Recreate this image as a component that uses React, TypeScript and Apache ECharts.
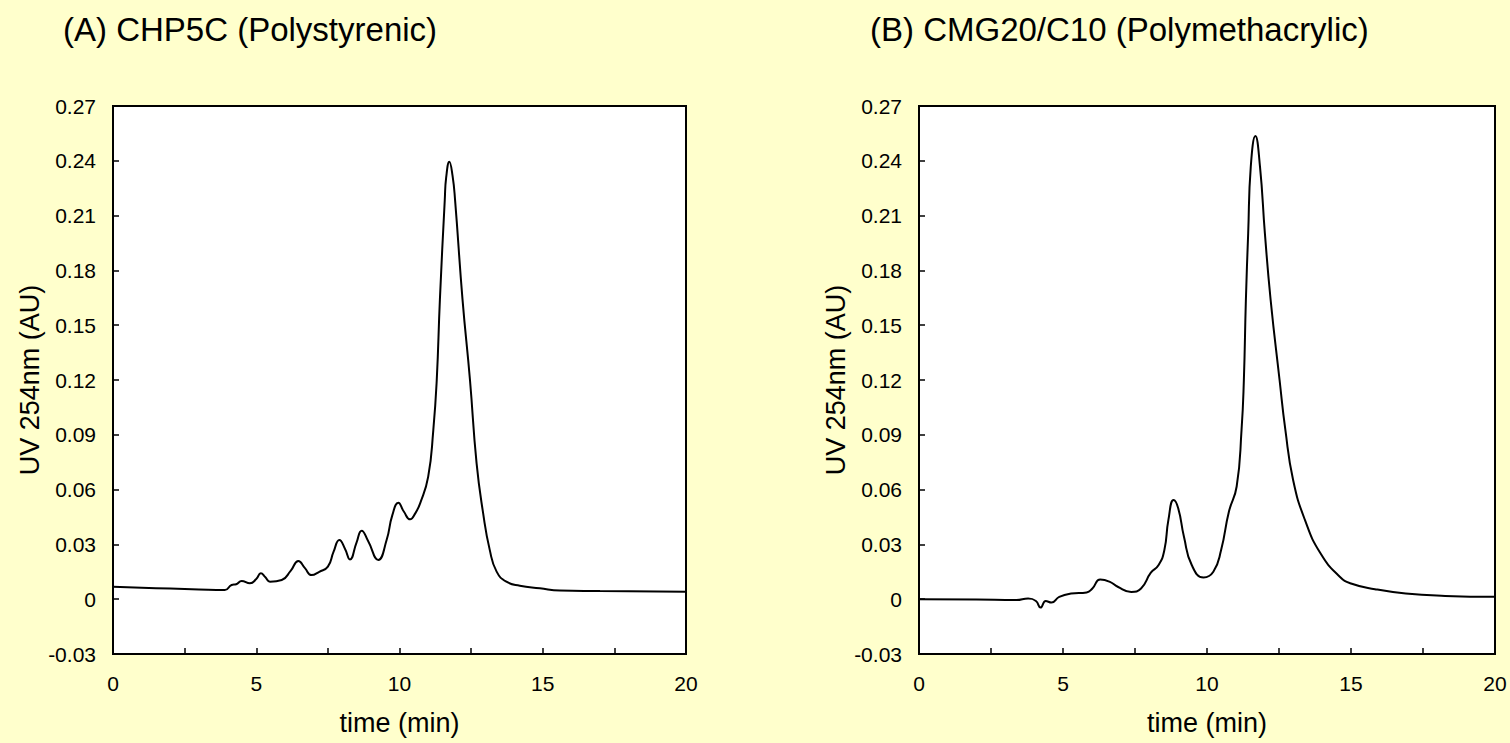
import React, { useEffect, useRef } from "react";
import * as echarts from "echarts";

const TITLE_A = "(A) CHP5C (Polystyrenic)";
const TITLE_B = "(B) CMG20/C10 (Polymethacrylic)";
const X_NAME = "time (min)";
const Y_NAME = "UV 254nm (AU)";

const timeA = [0, 1, 2, 3, 3.9, 4.14, 4.3, 4.49, 4.78, 5.0, 5.16, 5.32, 5.48, 5.89, 6.2, 6.47, 6.7, 6.93, 7.2, 7.5, 7.7, 7.9, 8.1, 8.27, 8.5, 8.68, 8.9, 9.26, 9.55, 9.75, 9.96, 10.15, 10.37, 10.55, 10.72, 11.0, 11.18, 11.3, 11.41, 11.58, 11.63, 11.74, 11.85, 11.94, 12.2, 12.46, 12.69, 12.92, 13.15, 13.39, 13.73, 14.2, 14.9, 15.6, 17, 20];
const uvA = [0.0068, 0.0063, 0.0058, 0.0053, 0.005, 0.0078, 0.0082, 0.0099, 0.0087, 0.011, 0.0142, 0.012, 0.0096, 0.0105, 0.0155, 0.0209, 0.017, 0.0132, 0.015, 0.0178, 0.026, 0.0324, 0.0275, 0.0218, 0.031, 0.0375, 0.032, 0.0215, 0.0324, 0.046, 0.0528, 0.048, 0.0437, 0.047, 0.0525, 0.067, 0.0926, 0.12, 0.164, 0.2185, 0.231, 0.2395, 0.232, 0.2185, 0.164, 0.12, 0.0745, 0.047, 0.027, 0.0151, 0.0096, 0.0074, 0.006, 0.0047, 0.0045, 0.0041];

const timeB = [0, 2, 3.38, 3.79, 4.06, 4.22, 4.4, 4.6, 4.87, 5.28, 5.82, 6.02, 6.29, 6.63, 6.9, 7.37, 7.71, 8.05, 8.32, 8.52, 8.66, 8.84, 9.0, 9.2, 9.47, 9.88, 10.22, 10.49, 10.76, 11.03, 11.2, 11.28, 11.35, 11.43, 11.52, 11.68, 11.84, 12.01, 12.21, 12.52, 12.72, 12.99, 13.4, 13.94, 14.61, 15.0, 15.83, 16.9, 18.27, 20];
const uvB = [0, -0.0002, -0.0005, 0.0004, -0.001, -0.0046, -0.001, -0.0018, 0.0013, 0.0031, 0.0037, 0.0059, 0.0108, 0.0095, 0.0068, 0.004, 0.0059, 0.0145, 0.0187, 0.0269, 0.0434, 0.0543, 0.0498, 0.0342, 0.0187, 0.0119, 0.015, 0.0269, 0.0479, 0.0617, 0.0928, 0.12, 0.1638, 0.2003, 0.2368, 0.2536, 0.2368, 0.2003, 0.1638, 0.12, 0.0928, 0.0653, 0.0434, 0.0251, 0.0123, 0.0086, 0.0055, 0.0031, 0.0018, 0.0013];

const FONT = 'Arial, "Liberation Sans", sans-serif';

function makeX(gridIndex: number) {
  return {
    gridIndex,
    type: "value",
    min: 0,
    max: 20,
    interval: 2.5,
    name: X_NAME,
    nameLocation: "middle",
    nameGap: 55,
    nameTextStyle: { fontSize: 27, color: "#000", fontFamily: FONT },
    axisLine: { onZero: false, lineStyle: { color: "#000", width: 2 } },
    axisTick: { inside: true, length: 6, lineStyle: { color: "#000", width: 1.5 } },
    axisLabel: {
      fontSize: 21,
      color: "#000",
      margin: 19,
      fontFamily: FONT,
      formatter: (v: number) => (Math.abs(v % 5) < 1e-9 ? String(v) : ""),
    },
    splitLine: { show: false },
  };
}

function makeY(gridIndex: number) {
  return {
    gridIndex,
    type: "value",
    min: -0.03,
    max: 0.27,
    interval: 0.03,
    name: Y_NAME,
    nameLocation: "middle",
    nameRotate: 90,
    nameGap: 70,
    nameTextStyle: { fontSize: 27, color: "#000", fontFamily: FONT },
    axisLine: { lineStyle: { color: "#000", width: 2 } },
    axisTick: { inside: true, length: 6, lineStyle: { color: "#000", width: 1.5 } },
    axisLabel: {
      fontSize: 21,
      color: "#000",
      margin: 17,
      fontFamily: FONT,
      formatter: (v: number) => (Math.abs(v) < 1e-9 ? "0" : v.toFixed(2)),
    },
    splitLine: { show: false },
  };
}

export default function App() {
  const ref = useRef<HTMLDivElement>(null);
  useEffect(() => {
    document.body.style.margin = "0";
    document.body.style.background = "#FFFFCC";
    const chart = echarts.init(ref.current!, undefined, { renderer: "svg" });
    const option = {
      animation: false,
      backgroundColor: "#FFFFCC",
      textStyle: { fontFamily: FONT },
      title: [
        { text: TITLE_A, left: 63, top: 13, padding: 0, textStyle: { fontSize: 33, fontWeight: "normal", color: "#000", fontFamily: FONT } },
        { text: TITLE_B, left: 870, top: 13, padding: 0, textStyle: { fontSize: 33, fontWeight: "normal", color: "#000", fontFamily: FONT } },
      ],
      grid: [
        { left: 113, top: 106, width: 573, height: 548, show: true, backgroundColor: "#fff", borderColor: "#000", borderWidth: 2 },
        { left: 919, top: 106, width: 576, height: 548, show: true, backgroundColor: "#fff", borderColor: "#000", borderWidth: 2 },
      ],
      xAxis: [makeX(0), makeX(1)],
      yAxis: [makeY(0), makeY(1)],
      series: [
        {
          type: "line",
          xAxisIndex: 0,
          yAxisIndex: 0,
          data: timeA.map((t, i) => [t, uvA[i]]),
          showSymbol: false,
          smooth: 0.5,
          lineStyle: { color: "#000", width: 2 },
        },
        {
          type: "line",
          xAxisIndex: 1,
          yAxisIndex: 1,
          data: timeB.map((t, i) => [t, uvB[i]]),
          showSymbol: false,
          smooth: 0.5,
          lineStyle: { color: "#000", width: 2 },
        },
      ],
    };
    chart.setOption(option as any);
    return () => chart.dispose();
  }, []);
  return <div ref={ref} style={{ width: 1510, height: 743 }} />;
}
